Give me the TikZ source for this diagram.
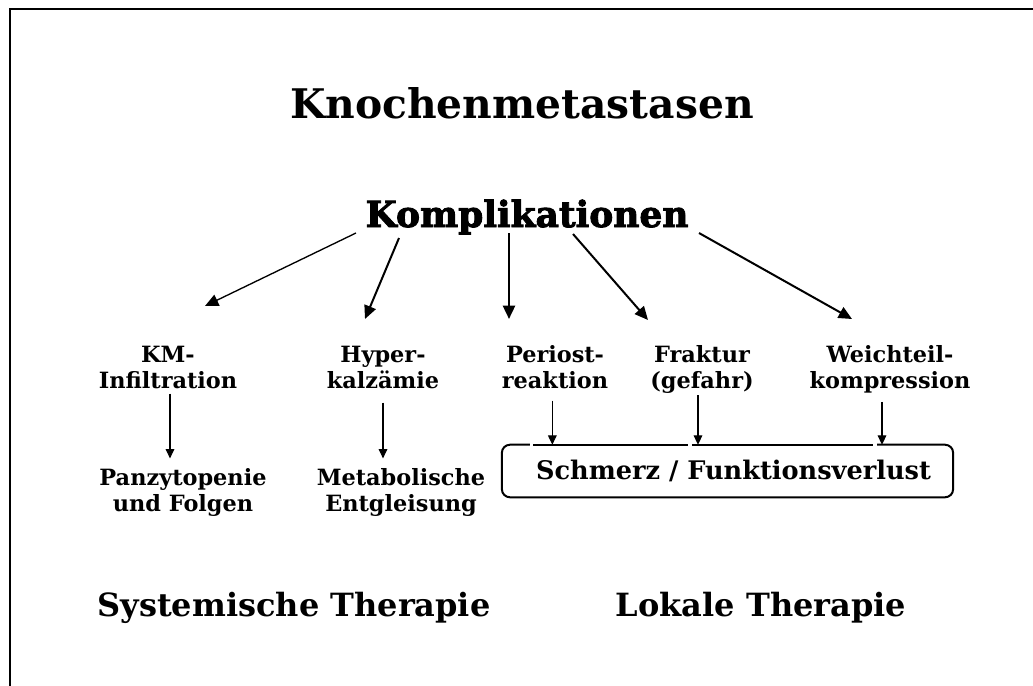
\documentclass[tikz,border=0pt]{standalone}
\usepackage{fontspec}
\setmainfont{DejaVu Serif}
\newfontfamily\heavyfont[FakeBold=2.5]{DejaVu Serif Bold}
\usetikzlibrary{arrows.meta}

\begin{document}
\begin{tikzpicture}[x=0.75pt, y=-0.75pt,
        lbl/.style={font=\fontsize{16.8}{19.5}\selectfont\bfseries, align=center, inner sep=0pt, anchor=base},
        gross/.style={font=\fontsize{24}{28}\selectfont\bfseries, inner sep=0pt, anchor=base},
        pfeil/.style={line width=1.5pt, -{Triangle[length=10pt,width=9pt]}},
        klein/.style={line width=0.8pt, -{Triangle[length=7pt,width=6.5pt]}},
        rahmen/.style={inner sep=0pt, minimum width=338pt, minimum height=39pt,
            font=\fontsize{19.2}{22}\selectfont\bfseries},
        rand/.style={line width=1.5pt},
    ]
    \useasboundingbox (0,0) rectangle (1033,686);
    % frame
    \draw[line width=1.5pt] (1033,9) -| (10,686);
    % headings
    \node[gross, font=\fontsize{30.6}{36}\selectfont\bfseries] (titel) at (522,118) {Knochenmetastasen};
    \node[gross, font=\fontsize{27}{32}\heavyfont] (komp) at (527,227) {Komplikationen};
    % complications
    \node[lbl] (km) at (168,388) {KM-\\Infiltration};
    \node[lbl] (hyper) at (383,388) {Hyper-\\kalzämie};
    \node[lbl] (peri) at (555,388) {Periost-\\reaktion};
    \node[lbl] (fraktur) at (702,388) {Fraktur\\(gefahr)};
    \node[lbl] (weich) at (890,388) {Weichteil-\\kompression};
    % consequences
    \node[lbl] (panz) at (183,511) {Panzytopenie\\und Folgen};
    \node[lbl] (meta) at (401,511) {Metabolische\\Entgleisung};
    \node[rahmen] (schmerz) at (727.5,471) {\hspace*{9pt}Schmerz / Funktionsverlust};
    \draw[rand] ([xshift=23.5pt]schmerz.north west) -- ([xshift=139.5pt]schmerz.north west);
    \draw[rand] ([xshift=142.5pt]schmerz.north west) -- ([xshift=278.5pt]schmerz.north west);
    \draw[rand, rounded corners=6pt] ([xshift=281.5pt]schmerz.north west) -- (schmerz.north east)
        -- (schmerz.south east) -- (schmerz.south west) -- (schmerz.north west) -- ([xshift=21pt]schmerz.north west);
    % therapy
    \node[gross] (system) at (294,616) {Systemische Therapie};
    \node[gross] (lokal) at (761,616) {Lokale Therapie};
    % arrows from Komplikationen
    \coordinate (k1) at (356,233); \coordinate (e1) at (205,306);
    \coordinate (k2) at (399,238); \coordinate (e2) at (365,319);
    \coordinate (k3) at (509,233); \coordinate (e3) at (509,319);
    \coordinate (k4) at (573,234); \coordinate (e4) at (648,320);
    \coordinate (k5) at (699,233); \coordinate (e5) at (852,319);
    \draw[pfeil, line width=1pt] (k1) -- (e1);
    \draw[pfeil] (k2) -- (e2);
    \draw[pfeil, line width=1.8pt] (k3) -- (e3);
    \draw[pfeil] (k4) -- (e4);
    \draw[pfeil] (k5) -- (e5);
    % down arrows
    \draw[klein, shorten <=3.75pt, shorten >=7pt] ([xshift=1.5pt]km.south) -- ([xshift=1.5pt]km.south |- panz.north);
    \draw[klein, shorten <=10.5pt, shorten >=7pt] (hyper.south) -- (hyper.south |- meta.north);
    \draw[klein, shorten <=9pt] ([xshift=-2pt]peri.south) -- ([xshift=-2pt]peri.south |- schmerz.north);
    \draw[klein, shorten <=1.5pt] ([xshift=-3pt]fraktur.south) -- ([xshift=-3pt]fraktur.south |- schmerz.north);
    \draw[klein, shorten <=6.75pt] ([xshift=-6pt]weich.south) -- ([xshift=-6pt]weich.south |- schmerz.north);
\end{tikzpicture}
\end{document}
